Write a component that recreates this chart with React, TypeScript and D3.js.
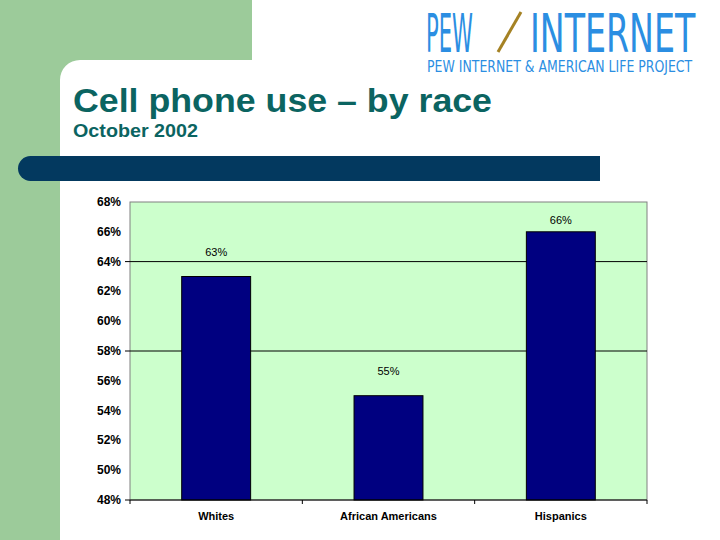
import React, { useEffect, useRef } from 'react';
import * as d3 from 'd3';

const categories = ['Whites', 'African Americans', 'Hispanics'];
const values = [63, 55, 66];
const yTicks = [48, 50, 52, 54, 56, 58, 60, 62, 64, 66, 68];
const gridValues = [58, 64];

const W = 720;
const H = 540;

// squeeze a text element horizontally so that it spans `width` px from x
function fitText(sel: d3.Selection<SVGTextElement, unknown, null, undefined>, x: number, width: number) {
  const node = sel.node();
  if (!node) return;
  const w = node.getBBox().width || 1;
  sel.attr('x', 0).attr('transform', `translate(${x},0) scale(${width / w},1)`);
}

const App: React.FC = () => {
  const svgRef = useRef<SVGSVGElement>(null);

  useEffect(() => {
    if (!svgRef.current) return;
    const svg = d3.select(svgRef.current);
    svg.selectAll('*').remove();

    // slide background
    svg.append('rect').attr('width', W).attr('height', H).attr('fill', '#ffffff');
    svg.append('rect').attr('x', 0).attr('y', 0).attr('width', 252).attr('height', 60).attr('fill', '#9ccb9a');
    svg.append('rect').attr('x', 0).attr('y', 0).attr('width', 60).attr('height', H).attr('fill', '#9ccb9a');
    // rounded white corner
    svg.append('path')
      .attr('d', 'M60,60 L80,60 A20,20 0 0 0 60,80 Z')
      .attr('fill', '#9ccb9a');

    // navy banner
    svg.append('path')
      .attr('d', 'M30.5,156 L600,156 L600,181 L30.5,181 A12.5,12.5 0 0 1 30.5,156 Z')
      .attr('fill', '#03395f');

    // titles
    svg.append('text')
      .attr('x', 73).attr('y', 112)
      .attr('font-family', 'Liberation Sans, Arial, sans-serif')
      .attr('font-weight', 'bold').attr('font-size', 33)
      .attr('textLength', 419).attr('lengthAdjust', 'spacingAndGlyphs')
      .attr('fill', '#0b6461')
      .text('Cell phone use – by race');
    svg.append('text')
      .attr('x', 73).attr('y', 137)
      .attr('font-family', 'Liberation Sans, Arial, sans-serif')
      .attr('font-weight', 'bold').attr('font-size', 18.5)
      .attr('textLength', 125).attr('lengthAdjust', 'spacingAndGlyphs')
      .attr('fill', '#0b6461')
      .text('October 2002');

    // logo
    const logo = svg.append('g').attr('font-family', 'DejaVu Sans, sans-serif').attr('fill', '#2b8ee2');
    const pew = logo.append('text').attr('y', 52).attr('font-size', 54).text('PEW');
    fitText(pew, 426, 47);
    logo.append('line').attr('x1', 498).attr('y1', 52).attr('x2', 521).attr('y2', 12)
      .attr('stroke', '#a58224').attr('stroke-width', 3);
    const inet = logo.append('text').attr('y', 52).attr('font-size', 54).text('INTERNET');
    fitText(inet, 530, 166);
    const sub = logo.append('text').attr('y', 72).attr('font-size', 15)
      .text('PEW INTERNET & AMERICAN LIFE PROJECT');
    fitText(sub, 427, 266);

    // chart
    const left = 130, right = 647, top = 202, bottom = 500;
    const x = d3.scaleBand<string>().domain(categories).range([left, right]).paddingInner(0).paddingOuter(0);
    const y = d3.scaleLinear().domain([48, 68]).range([bottom, top]);
    const barW = x.bandwidth() * 0.4;

    svg.append('rect')
      .attr('x', left).attr('y', top).attr('width', right - left).attr('height', bottom - top)
      .attr('fill', '#ccffcc').attr('stroke', '#808080').attr('stroke-width', 1);

    svg.selectAll('.grid').data(gridValues).enter().append('line')
      .attr('x1', left - 5).attr('x2', right)
      .attr('y1', d => y(d)).attr('y2', d => y(d))
      .attr('stroke', '#000').attr('stroke-width', 1);

    svg.selectAll('.bar').data(values).enter().append('rect')
      .attr('x', (d, i) => (x(categories[i]) || 0) + (x.bandwidth() - barW) / 2)
      .attr('y', d => y(d))
      .attr('width', barW)
      .attr('height', d => bottom - y(d))
      .attr('fill', '#000080').attr('stroke', '#000').attr('stroke-width', 1);

    // bottom axis
    svg.append('line').attr('x1', left - 5).attr('x2', right).attr('y1', bottom).attr('y2', bottom)
      .attr('stroke', '#000').attr('stroke-width', 1);
    const bounds = [...categories.map(c => x(c) || 0), right];
    svg.selectAll('.xtick').data(bounds).enter().append('line')
      .attr('x1', d => d).attr('x2', d => d).attr('y1', bottom).attr('y2', bottom + 4)
      .attr('stroke', '#000');

    const font = 'Liberation Sans, Arial, sans-serif';
    svg.selectAll('.ylab').data(yTicks).enter().append('text')
      .attr('x', 121).attr('y', d => y(d) + 4)
      .attr('text-anchor', 'end').attr('font-family', font)
      .attr('font-weight', 'bold').attr('font-size', 12).attr('fill', '#000')
      .text(d => `${d}%`);

    svg.selectAll('.xlab').data(categories).enter().append('text')
      .attr('x', d => (x(d) || 0) + x.bandwidth() / 2).attr('y', 520)
      .attr('text-anchor', 'middle').attr('font-family', font)
      .attr('font-weight', 'bold').attr('font-size', 11).attr('fill', '#000')
      .text(d => d);

    svg.selectAll('.vlab').data(values).enter().append('text')
      .attr('x', (d, i) => (x(categories[i]) || 0) + x.bandwidth() / 2)
      .attr('y', d => Math.max(y(d) - 21, top + 22))
      .attr('text-anchor', 'middle').attr('font-family', font)
      .attr('font-size', 11).attr('fill', '#000')
      .text(d => `${d}%`);
  }, []);

  return (
    <div style={{ position: 'fixed', left: 0, top: 0 }}>
      <svg ref={svgRef} width={W} height={H} />
    </div>
  );
};

export default App;
